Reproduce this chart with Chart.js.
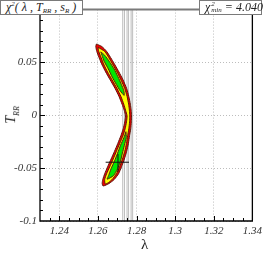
<!DOCTYPE html>
<html>
<head>
<meta charset="utf-8">
<script src="https://cdn.jsdelivr.net/npm/chart.js@4.4.0/dist/chart.umd.min.js"></script>
<style>
  body { margin: 0; background: #fff; }
  #wrap { position: relative; width: 266px; height: 253px; font-family: "Liberation Serif", "DejaVu Serif", serif; }
  #wrap canvas { position: absolute; left: 0; top: 0; }
  .box { position: absolute; top: 0; height: 15px; box-sizing: border-box; background: #fff;
         border: 1.5px solid #7a7a7a; font-size: 12px; line-height: 12px; font-style: italic;
         white-space: nowrap; color: #222; padding-left: 5px; }
  #boxL { left: 0; width: 83px; }
  #boxR { left: 199px; width: 63px; padding-left: 5px; }
  .box sup { font-size: 7px; vertical-align: 5px; line-height: 0; }
  .box sub { font-size: 7px; vertical-align: -2px; line-height: 0; }
  .stack { display: inline-block; vertical-align: top; font-size: 7px; line-height: 6px; margin-left: 1px; }
  .stack span { display: block; }
  #xTitle { position: absolute; left: 141px; top: 236px; font-size: 15px; color: #222; }
  #yTitle { position: absolute; left: -8px; top: 106px; width: 40px; text-align: center;
            transform: rotate(-90deg); font-size: 14px; font-style: italic; color: #222; white-space: nowrap; }
  #yTitle sub { font-size: 8px; }
</style>
</head>
<body>
<div id="wrap">
  <canvas id="chi2Chart"></canvas>
  <div class="box" id="boxL">χ<sup>2</sup>( λ , T<sub>RR</sub> , s<sub>R</sub> )</div>
  <div class="box" id="boxR">χ<span class="stack"><span>2</span><span>min</span></span> = 4.040</div>
  <div id="xTitle">λ</div>
  <div id="yTitle">T<sub>RR</sub></div>
</div>
<script>
  // axis ranges and tick labels
  const xMin = 1.23, xMax = 1.34;
  const yMin = -0.1, yMax = 0.1;
  const xTicks = [1.24, 1.26, 1.28, 1.3, 1.32, 1.34];
  const yTicks = [-0.1, -0.05, 0, 0.05, 0.1];
  const xMinorStep = 0.005;
  const yMinorStep = 0.01;

  // outer (red) contour
  const redLam = [1.2592, 1.2620, 1.2645, 1.2671, 1.2689, 1.2709, 1.2730, 1.2749, 1.2760, 1.2768, 1.2772, 1.2774,
    1.2773, 1.2770, 1.2764, 1.2758, 1.2749, 1.2737, 1.2722, 1.2707, 1.2684, 1.2658, 1.2627,
    1.2622, 1.2625, 1.2635, 1.2650, 1.2668, 1.2686, 1.2703, 1.2719, 1.2731, 1.2739, 1.2743,
    1.2736, 1.2725, 1.2709, 1.2689, 1.2663, 1.2640, 1.2622, 1.2609, 1.2594, 1.2589];
  const redT = [0.0674, 0.0651, 0.0605, 0.0531, 0.0475, 0.0410, 0.0336, 0.0253, 0.0179, 0.0105, 0.0049, -0.0006,
    -0.0062, -0.0127, -0.0192, -0.0266, -0.0340, -0.0414, -0.0488, -0.0553, -0.0608, -0.0645, -0.0669,
    -0.0645, -0.0608, -0.0553, -0.0488, -0.0414, -0.0340, -0.0266, -0.0192, -0.0127, -0.0062, -0.0006,
    0.0049, 0.0105, 0.0179, 0.0253, 0.0336, 0.0410, 0.0475, 0.0531, 0.0605, 0.0651];

  // middle (yellow) contour
  const yellowLam = [1.2601, 1.2635, 1.2661, 1.2679, 1.2699, 1.2719, 1.2739, 1.2751, 1.2759, 1.2763, 1.2765,
    1.2764, 1.2760, 1.2754, 1.2748, 1.2739, 1.2727, 1.2712, 1.2696, 1.2673, 1.2655, 1.2638,
    1.2635, 1.2645, 1.2661, 1.2679, 1.2696, 1.2713, 1.2730, 1.2741, 1.2748, 1.2751,
    1.2743, 1.2734, 1.2719, 1.2699, 1.2673, 1.2650, 1.2632, 1.2620, 1.2604];
  const yellowT = [0.0642, 0.0605, 0.0531, 0.0475, 0.0410, 0.0336, 0.0253, 0.0179, 0.0105, 0.0049, -0.0006,
    -0.0062, -0.0127, -0.0192, -0.0266, -0.0340, -0.0414, -0.0488, -0.0553, -0.0608, -0.0636, -0.0650,
    -0.0608, -0.0553, -0.0488, -0.0414, -0.0340, -0.0266, -0.0192, -0.0127, -0.0062, -0.0006,
    0.0049, 0.0105, 0.0179, 0.0253, 0.0336, 0.0410, 0.0475, 0.0531, 0.0605];

  // inner (green) contours, upper and lower lobe
  const greenUpLam = [1.2615, 1.2635, 1.2658, 1.2684, 1.2704, 1.2722, 1.2734, 1.2736, 1.2714, 1.2696, 1.2673, 1.2654, 1.2632, 1.2621];
  const greenUpT = [0.0600, 0.0568, 0.0512, 0.0438, 0.0364, 0.0290, 0.0234, 0.0188, 0.0234, 0.0290, 0.0364, 0.0438, 0.0512, 0.0568];
  const greenLoLam = [1.2745, 1.2747, 1.2737, 1.2727, 1.2717, 1.2702, 1.2681, 1.2648, 1.2655, 1.2668, 1.2686, 1.2702, 1.2717, 1.2735];
  const greenLoT = [-0.0155, -0.0210, -0.0284, -0.0358, -0.0432, -0.0506, -0.0571, -0.0604, -0.0571, -0.0506, -0.0432, -0.0358, -0.0284, -0.0210];

  // best fit point with its error bars
  const bestLam = 1.2704, bestT = -0.0444;
  const lamRange = [1.2640, 1.2761];
  const tRange = [-0.0532, -0.0366];

  // vertical reference lines in lambda
  const vLines = [1.2733, 1.2755, 1.2776];

  function poly(lams, ts) {
    const pts = lams.map((l, i) => ({ x: l, y: ts[i] }));
    pts.push(pts[0]);
    return pts;
  }

  const vData = [];
  vLines.forEach((v) => {
    vData.push({ x: v, y: yMin }, { x: v, y: yMax }, { x: v, y: null });
  });

  const crossData = [
    { x: lamRange[0], y: bestT }, { x: lamRange[1], y: bestT }, { x: bestLam, y: null },
    { x: bestLam, y: tRange[0] }, { x: bestLam, y: tRange[1] }
  ];

  const outline = "#5e1a0c";
  const contour = (data, color, order) => ({
    data: data, borderColor: outline, borderWidth: 1, backgroundColor: color,
    fill: "shape", pointRadius: 0, tension: 0.2, order: order
  });

  // inside ticks + frame
  const frameAndTicks = {
    id: "frameAndTicks",
    afterDatasetsDraw(chart) {
      const { ctx, chartArea: a, scales: { x, y } } = chart;
      ctx.save();
      ctx.strokeStyle = "#000";
      ctx.lineWidth = 1;
      ctx.beginPath();
      const nx = Math.round((xMax - xMin) / xMinorStep);
      for (let i = 1; i < nx; i++) {
        const v = xMin + i * xMinorStep;
        const major = xTicks.some((t) => Math.abs(t - v) < 1e-6);
        const px = Math.round(x.getPixelForValue(v)) + 0.5;
        ctx.moveTo(px, a.bottom);
        ctx.lineTo(px, a.bottom - (major ? 5 : 3));
      }
      const ny = Math.round((yMax - yMin) / yMinorStep);
      for (let i = 1; i < ny; i++) {
        const v = yMin + i * yMinorStep;
        const major = yTicks.some((t) => Math.abs(t - v) < 1e-6);
        const py = Math.round(y.getPixelForValue(v)) + 0.5;
        ctx.moveTo(a.left, py);
        ctx.lineTo(a.left + (major ? 5 : 3), py);
      }
      ctx.stroke();

      ctx.lineWidth = 1.3;
      ctx.beginPath();
      ctx.moveTo(a.left, a.top);
      ctx.lineTo(a.left, a.bottom);
      ctx.lineTo(a.right, a.bottom);
      ctx.lineTo(a.right, a.top);
      ctx.stroke();

      ctx.strokeStyle = "#7a7a7a";
      ctx.lineWidth = 2;
      ctx.beginPath();
      ctx.moveTo(a.left, a.top);
      ctx.lineTo(a.right, a.top);
      ctx.stroke();
      ctx.restore();
    }
  };

  const tickFont = { family: "'Liberation Serif', serif", style: "italic", size: 11 };
  const fmt = (v) => String(parseFloat(Number(v).toFixed(3)));

  const ctx = document.getElementById("chi2Chart").getContext("2d");
  const chi2Chart = new Chart(ctx, {
    type: "line",
    data: {
      datasets: [
        { data: crossData, borderColor: "#111", borderWidth: 1, pointRadius: 0, fill: false, order: 0 },
        contour(poly(greenUpLam, greenUpT), "#00e600", 3),
        contour(poly(greenLoLam, greenLoT), "#00e600", 3),
        contour(poly(yellowLam, yellowT), "#ffff00", 4),
        contour(poly(redLam, redT), "#ee0000", 5),
        { data: vData, borderColor: "#f4f4f4", borderWidth: 1, pointRadius: 0, fill: false, order: 6 },
        { data: vData, borderColor: "#a8a8a8", borderWidth: 2.4, pointRadius: 0, fill: false, order: 7 }
      ]
    },
    options: {
      responsive: true,
      maintainAspectRatio: false,
      animation: false,
      layout: { padding: { left: 0, right: 11, top: 5, bottom: 0 } },
      plugins: {
        legend: { display: false },
        tooltip: { enabled: false }
      },
      scales: {
        x: {
          type: "linear",
          min: xMin,
          max: xMax,
          afterBuildTicks: (scale) => { scale.ticks = xTicks.map((v) => ({ value: v })); },
          afterFit: (scale) => { scale.height = 32; },
          grid: { color: "#bdbdbd", lineWidth: 1, drawTicks: false },
          border: { display: false, dash: [1, 2] },
          ticks: { font: tickFont, color: "#333", padding: 4, maxRotation: 0, callback: fmt }
        },
        y: {
          type: "linear",
          min: yMin,
          max: yMax,
          afterBuildTicks: (scale) => { scale.ticks = yTicks.map((v) => ({ value: v })); },
          afterFit: (scale) => { scale.width = 40; },
          grid: { color: "#bdbdbd", lineWidth: 1, drawTicks: false },
          border: { display: false, dash: [1, 2] },
          ticks: { font: tickFont, color: "#333", padding: 3, callback: fmt }
        }
      }
    },
    plugins: [frameAndTicks]
  });
</script>
</body>
</html>
